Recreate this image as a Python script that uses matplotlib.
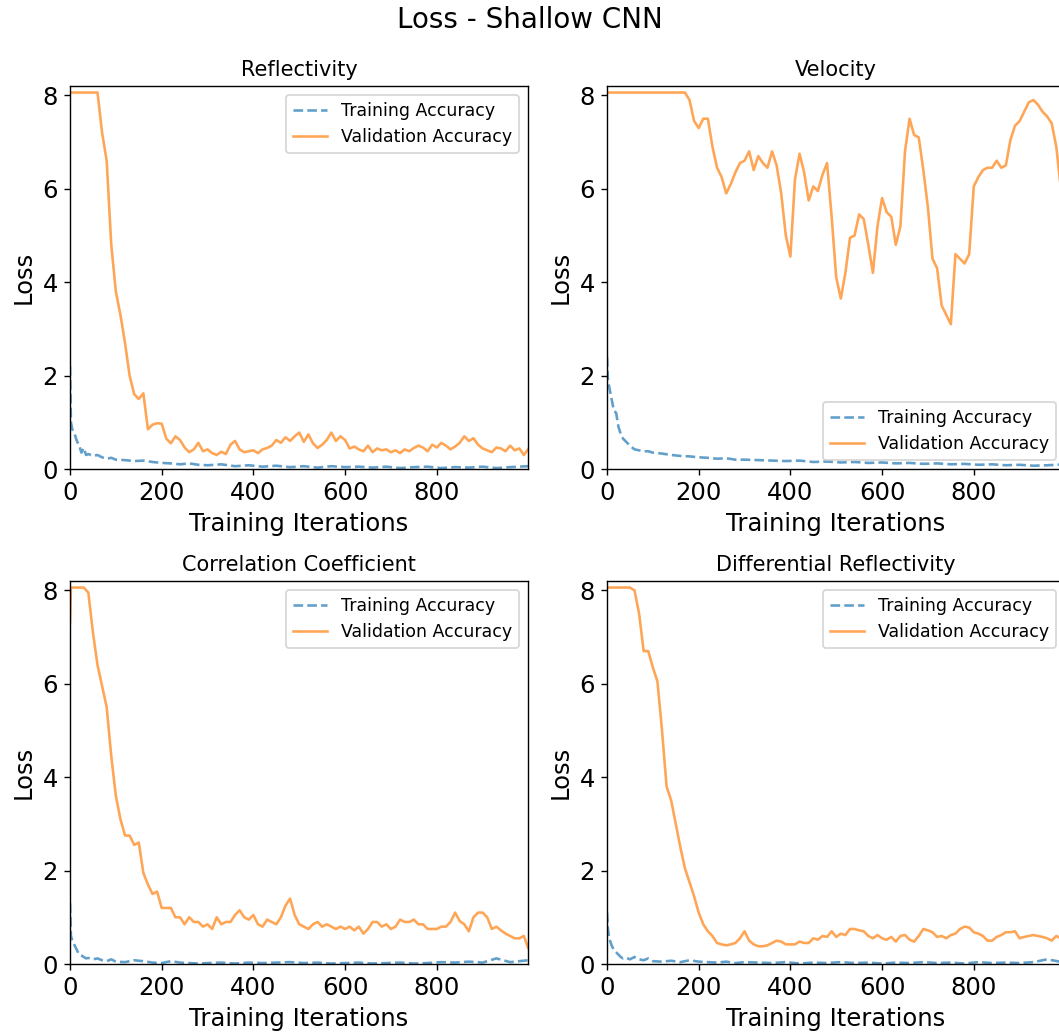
import matplotlib
matplotlib.use("Agg")
import matplotlib.pyplot as plt

# iteration grids
grid = list(range(0, 1000, 10)) + [999]
grid_cc = [0, 2] + list(range(10, 1000, 10)) + [999]
tr_x = [0, 2, 5, 10, 15, 20, 25, 30, 35, 40, 50, 60, 70, 80, 90, 100,
        120, 140, 160, 180, 200, 220, 240, 260, 280, 300,
        330, 360, 390, 420, 450, 480, 510, 540, 570, 600, 630, 660, 690,
        720, 750, 780, 810, 840, 870, 900, 930, 960, 999]

titles = ["Reflectivity", "Velocity", "Correlation Coefficient",
          "Differential Reflectivity"]

# training loss
refl_tr = [2.2, 1.0, 0.85, 0.75, 0.6, 0.5, 0.35, 0.45, 0.3, 0.32,
           0.28, 0.3, 0.25, 0.22, 0.24, 0.2,
           0.19, 0.17, 0.18, 0.15, 0.13, 0.12, 0.1, 0.12, 0.09, 0.08,
           0.1, 0.06, 0.08, 0.05, 0.07, 0.04, 0.06, 0.03, 0.06, 0.04, 0.05,
           0.03, 0.05, 0.02, 0.04, 0.05, 0.02, 0.04, 0.03, 0.05, 0.02, 0.04,
           0.06]
vel_tr = [2.4, 1.9, 1.75, 1.5, 1.25, 1.2, 0.9, 0.75, 0.65, 0.6,
          0.5, 0.42, 0.4, 0.38, 0.38, 0.35,
          0.33, 0.3, 0.28, 0.27, 0.25, 0.24, 0.22, 0.23, 0.2, 0.2,
          0.19, 0.18, 0.17, 0.18, 0.15, 0.16, 0.14, 0.15, 0.13, 0.14, 0.12,
          0.13, 0.11, 0.12, 0.1, 0.11, 0.09, 0.1, 0.08, 0.09, 0.07, 0.08,
          0.1]
cc_tr = [1.3, 0.6, 0.5, 0.4, 0.3, 0.2, 0.18, 0.15, 0.12, 0.13,
         0.1, 0.12, 0.08, 0.06, 0.1, 0.05,
         0.04, 0.08, 0.06, 0.03, 0.02, 0.06, 0.03, 0.02, 0.01, 0.02,
         0.03, 0.01, 0.03, 0.02, 0.03, 0.04, 0.02, 0.03, 0.01, 0.02, 0.03,
         0.01, 0.02, 0.03, 0.01, 0.02, 0.04, 0.03, 0.05, 0.03, 0.12, 0.04,
         0.08]
zdr_tr = [1.1, 0.75, 0.55, 0.4, 0.3, 0.25, 0.2, 0.15, 0.12, 0.14,
          0.1, 0.15, 0.1, 0.08, 0.12, 0.06,
          0.05, 0.07, 0.04, 0.08, 0.05, 0.04, 0.03, 0.05, 0.02, 0.04,
          0.03, 0.02, 0.04, 0.01, 0.03, 0.02, 0.04, 0.02, 0.03, 0.01, 0.03,
          0.02, 0.04, 0.02, 0.03, 0.01, 0.04, 0.02, 0.03, 0.02, 0.04, 0.1,
          0.03]

# validation loss
refl_val = [8.06, 8.06, 8.06, 8.06, 8.06, 8.06, 8.06,
            7.2, 6.6, 4.8, 3.8, 3.3, 2.7, 2.0, 1.6, 1.5, 1.62, 0.85, 0.95, 0.98, 0.97,
            0.65, 0.55, 0.7, 0.62, 0.46, 0.36, 0.42, 0.56, 0.38, 0.42,
            0.34, 0.3, 0.37, 0.32, 0.52, 0.6, 0.42, 0.36, 0.38, 0.4,
            0.34, 0.42, 0.45, 0.5, 0.62, 0.56, 0.68, 0.6, 0.7, 0.78,
            0.58, 0.74, 0.55, 0.45, 0.52, 0.62, 0.78, 0.6, 0.7, 0.62,
            0.44, 0.48, 0.42, 0.38, 0.5, 0.36, 0.44, 0.4, 0.42, 0.36,
            0.4, 0.34, 0.42, 0.38, 0.45, 0.5, 0.46, 0.38, 0.52, 0.46,
            0.56, 0.5, 0.42, 0.48, 0.56, 0.7, 0.6, 0.66, 0.52, 0.44,
            0.4, 0.36, 0.46, 0.44, 0.38, 0.5, 0.4, 0.44, 0.3,
            0.42]
vel_val = [8.06] * 18 + [
    7.9, 7.45, 7.3, 7.5, 7.5, 6.9, 6.45, 6.25, 5.9, 6.1,
    6.35, 6.55, 6.6, 6.8, 6.4, 6.7, 6.55, 6.45, 6.8, 6.5,
    5.9, 5.0, 4.55, 6.2, 6.75, 6.35, 5.75, 6.05, 5.95, 6.3,
    6.55, 5.4, 4.1, 3.65, 4.2, 4.95, 5.0, 5.45, 5.35, 4.8,
    4.2, 5.2, 5.8, 5.5, 5.4, 4.8, 5.2, 6.8, 7.5, 7.15,
    7.1, 6.4, 5.6, 4.5, 4.3, 3.5, 3.3, 3.1, 4.6, 4.5,
    4.4, 4.6, 6.05, 6.25, 6.4, 6.45, 6.45, 6.6, 6.45, 6.5,
    7.05, 7.35, 7.45, 7.65, 7.85, 7.9, 7.8, 7.65, 7.55, 7.4,
    6.9, 6.0, 5.6]
cc_val = [7.3, 8.06, 8.06, 8.06, 8.06, 7.95, 7.1, 6.4, 5.95, 5.5, 4.45,
          3.6, 3.1, 2.75, 2.75, 2.55, 2.6, 1.95, 1.7, 1.5, 1.55,
          1.2, 1.2, 1.2, 1.0, 1.0, 0.85, 1.0, 0.9, 0.9, 0.8,
          0.85, 0.75, 1.0, 0.85, 0.9, 0.9, 1.05, 1.15, 1.0, 0.95,
          1.05, 0.85, 0.8, 0.95, 0.9, 0.85, 1.0, 1.25, 1.4, 1.05,
          0.85, 0.8, 0.75, 0.85, 0.9, 0.8, 0.85, 0.8, 0.75, 0.8,
          0.75, 0.8, 0.72, 0.8, 0.65, 0.75, 0.9, 0.9, 0.8, 0.85,
          0.75, 0.8, 0.95, 0.9, 0.9, 0.95, 0.85, 0.85, 0.75, 0.75,
          0.75, 0.8, 0.8, 0.9, 1.1, 0.92, 0.85, 0.7, 1.0, 1.1,
          1.1, 1.0, 0.75, 0.8, 0.72, 0.65, 0.6, 0.55, 0.55, 0.6,
          0.35]
zdr_val = [8.06, 8.06, 8.06, 8.06, 8.06, 8.06, 8.0, 7.5, 6.7, 6.7,
           6.35, 6.05, 5.0, 3.8, 3.5, 3.0, 2.5, 2.05, 1.75, 1.45,
           1.1, 0.85, 0.7, 0.6, 0.45, 0.42, 0.4, 0.42, 0.45, 0.55,
           0.7, 0.5, 0.42, 0.38, 0.38, 0.4, 0.45, 0.5, 0.48, 0.42,
           0.42, 0.42, 0.48, 0.45, 0.45, 0.55, 0.52, 0.6, 0.58, 0.7,
           0.58, 0.65, 0.62, 0.75, 0.75, 0.72, 0.7, 0.6, 0.55, 0.62,
           0.55, 0.52, 0.58, 0.48, 0.6, 0.62, 0.52, 0.48, 0.6, 0.75,
           0.72, 0.68, 0.58, 0.6, 0.55, 0.62, 0.65, 0.75, 0.8, 0.78,
           0.68, 0.65, 0.6, 0.5, 0.5, 0.58, 0.62, 0.68, 0.68, 0.7,
           0.55, 0.58, 0.6, 0.62, 0.6, 0.58, 0.55, 0.5, 0.6, 0.55,
           0.45]

train = [refl_tr, vel_tr, cc_tr, zdr_tr]
valid = [(grid, refl_val), (grid, vel_val), (grid_cc, cc_val), (grid, zdr_val)]
leg_loc = ["upper right", "lower right", "upper right", "upper right"]

W, H = 1059, 1034
fig = plt.figure(figsize=(W / 125, H / 125), dpi=125)
# axes boxes in pixels: left, top ; the right column runs past the image edge
boxes = [(70, 86), (607, 86), (70, 581), (607, 581)]
aw, ah = 458, 383

for i in range(4):
    l, t = boxes[i]
    ax = fig.add_axes([l / W, 1 - (t + ah) / H, aw / W, ah / H])
    ax.plot(tr_x, train[i], "--", color="tab:blue", alpha=0.7,
            label="Training Accuracy")
    vx, vy = valid[i]
    ax.plot(vx, vy, "-", color="tab:orange", alpha=0.7,
            label="Validation Accuracy")
    ax.set_xlim(0, 999)
    ax.set_ylim(0, 8.2)
    ax.set_xticks([0, 200, 400, 600, 800])
    ax.set_yticks([0, 2, 4, 6, 8])
    ax.tick_params(labelsize=14)
    ax.set_title(titles[i], fontsize=12)
    ax.set_xlabel("Training Iterations", fontsize=14)
    ax.set_ylabel("Loss", fontsize=14)
    ax.legend(loc=leg_loc[i], fontsize=10)

fig.suptitle("Loss - Shallow CNN", fontsize=16, y=1 - 20 / H, va="center")
fig.savefig("out.png", dpi=125)
